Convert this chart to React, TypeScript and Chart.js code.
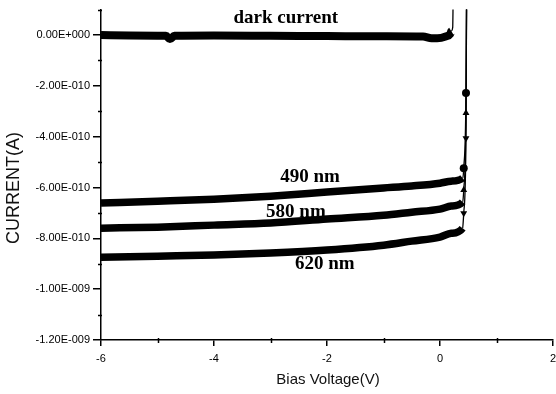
import React, { useEffect, useRef } from 'react';
import { Chart, registerables } from 'chart.js';

Chart.register(...registerables);

// ---- data ----
const darkVoltage = [-6, -5.5, -5, -4.85, -4.78, -4.7, -4, -3, -2, -1, -0.3, -0.15, -0.05, 0.1, 0.18, 0.2, 0.225, 0.232];
const darkCurrent = [0, -2e-12, -3e-12, -3e-12, -1.6e-11, -3e-12, -2e-12, -3e-12, -4e-12, -5e-12, -6e-12, -1.3e-11, -1.3e-11, -6e-12, 4e-12, 1.5e-11, 3e-11, 1.3e-10];

const lightVoltage = [-6, -5, -4, -3, -2, -1, -0.5, 0, 0.2, 0.4, 0.42, 0.46, 0.47];
const current490 = [-6.61e-10, -6.54e-10, -6.46e-10, -6.34e-10, -6.18e-10, -6.02e-10, -5.94e-10, -5.83e-10, -5.75e-10, -5.63e-10, -5.24e-10, -2.28e-10, 1.3e-10];
const current580 = [-7.6e-10, -7.56e-10, -7.48e-10, -7.4e-10, -7.24e-10, -7.09e-10, -6.97e-10, -6.85e-10, -6.73e-10, -6.57e-10, -6.1e-10, -3.07e-10, 1.3e-10];
const current620 = [-8.74e-10, -8.7e-10, -8.66e-10, -8.58e-10, -8.46e-10, -8.27e-10, -8.11e-10, -7.95e-10, -7.8e-10, -7.6e-10, -7.01e-10, -4.06e-10, 1.3e-10];

const xTickValues = [-6, -4, -2, 0, 2];
const xTickLabels = ['-6', '-4', '-2', '0', '2'];
const xMinorTicks = [-5, -3, -1, 1];
const yTickValues = [0, -2e-10, -4e-10, -6e-10, -8e-10, -1e-9, -1.2e-9];
const yTickLabels = ['0.00E+000', '-2.00E-010', '-4.00E-010', '-6.00E-010', '-8.00E-010', '-1.00E-009', '-1.20E-009'];
const yMinorTicks = [1e-10, -1e-10, -3e-10, -5e-10, -7e-10, -9e-10, -1.1e-9];

const seriesLabels = ['dark current', '490 nm', '580 nm', '620 nm'];
const labelVoltage = [-2.73, -2.3, -2.55, -2.04];
const labelCurrent = [0.67e-10, -5.59e-10, -6.97e-10, -9.02e-10];

const xTitle = 'Bias Voltage(V)';
const yTitle = 'CURRENT(A)';

const toPoints = (xs: number[], ys: number[]) => xs.map((x, i) => ({ x, y: ys[i] }));

const overlayPlugin = {
  id: 'overlay',
  afterDraw(chart: any) {
    const { ctx, scales, chartArea } = chart;
    const xs = scales.x;
    const ys = scales.y;
    ctx.save();
    // minor ticks
    ctx.strokeStyle = '#000';
    ctx.lineWidth = 1.5;
    xMinorTicks.forEach((v) => {
      const px = Math.round(xs.getPixelForValue(v)) + 0.5;
      ctx.beginPath();
      ctx.moveTo(px, chartArea.bottom - 2);
      ctx.lineTo(px, chartArea.bottom + 3);
      ctx.stroke();
    });
    yMinorTicks.forEach((v) => {
      const py = Math.round(ys.getPixelForValue(v)) + 0.5;
      ctx.beginPath();
      ctx.moveTo(chartArea.left - 3, py);
      ctx.lineTo(chartArea.left + 1, py);
      ctx.stroke();
    });
    // series labels
    ctx.fillStyle = '#000';
    ctx.font = 'bold 19px "Liberation Serif", "Times New Roman", serif';
    ctx.textAlign = 'center';
    ctx.textBaseline = 'middle';
    seriesLabels.forEach((t, i) => {
      ctx.fillText(t, xs.getPixelForValue(labelVoltage[i]), ys.getPixelForValue(labelCurrent[i]));
    });
    // axis titles
    ctx.font = '15px "Liberation Sans", Arial, sans-serif';
    ctx.fillStyle = '#111';
    ctx.fillText(xTitle, 328, 380);
    ctx.translate(14, 188);
    ctx.rotate(-Math.PI / 2);
    ctx.font = '18px "Liberation Sans", Arial, sans-serif';
    ctx.fillText(yTitle, 0, 0);
    ctx.restore();
  },
};

const lightDataset = (data: number[], style: string, rotation: number) => ({
  data: toPoints(lightVoltage, data),
  borderColor: '#000',
  backgroundColor: '#000',
  borderWidth: 7.5,
  cubicInterpolationMode: 'monotone',
  pointStyle: style,
  pointRotation: rotation,
  pointRadius: (c: any) => {
    const p = c.raw;
    return p && p.x >= 0.41 && p.y < 0 ? 4 : 0;
  },
  pointBorderWidth: 0,
  segment: {
    borderWidth: (c: any) => (c.p0.parsed.x >= 0.39 ? 1.3 : 7.5),
  },
});

export default function App() {
  const ref = useRef<HTMLCanvasElement | null>(null);
  useEffect(() => {
    if (!ref.current) return;
    const chart = new Chart(ref.current, {
      type: 'line',
      data: {
        datasets: [
          {
            data: toPoints(darkVoltage, darkCurrent),
            borderColor: '#000',
            backgroundColor: '#000',
            borderWidth: 8,
            pointRadius: 0,
            cubicInterpolationMode: 'monotone',
            segment: {
              borderWidth: (c: any) => (c.p0.parsed.x >= 0.2 ? 1.3 : 8),
            },
          } as any,
          lightDataset(current490, 'circle', 0) as any,
          lightDataset(current580, 'triangle', 0) as any,
          lightDataset(current620, 'triangle', 180) as any,
        ],
      },
      options: {
        responsive: false,
        animation: false,
        events: [],
        layout: { padding: { left: 0, right: 3, top: 9.6, bottom: 0 } },
        plugins: { legend: { display: false }, tooltip: { enabled: false } },
        scales: {
          x: {
            type: 'linear',
            min: -6,
            max: 2,
            afterBuildTicks: (s: any) => {
              s.ticks = xTickValues.map((v) => ({ value: v }));
            },
            afterFit: (s: any) => {
              s.height = 54;
              s.paddingLeft = 0;
              s.paddingRight = 0;
            },
            ticks: {
              autoSkip: false,
              maxRotation: 0,
              padding: 6,
              color: '#000',
              font: { family: '"Liberation Sans", Arial, sans-serif', size: 11 },
              callback: (v: any) => {
                const i = xTickValues.indexOf(Number(v));
                return i >= 0 ? xTickLabels[i] : '';
              },
            },
            grid: { drawOnChartArea: false, drawTicks: true, tickLength: 6, color: '#000', lineWidth: 1.5 },
            border: { display: true, color: '#000', width: 1.5 },
          },
          y: {
            type: 'linear',
            min: -1.2e-9,
            max: 1e-10,
            afterBuildTicks: (s: any) => {
              s.ticks = yTickValues.map((v) => ({ value: v }));
            },
            afterFit: (s: any) => {
              s.width = 101;
              s.paddingTop = 0;
              s.paddingBottom = 0;
            },
            ticks: {
              autoSkip: false,
              padding: 3,
              color: '#000',
              font: { family: '"Liberation Sans", Arial, sans-serif', size: 11 },
              callback: (v: any) => {
                const i = yTickValues.findIndex((t) => Math.abs(t - Number(v)) < 1e-14);
                return i >= 0 ? yTickLabels[i] : '';
              },
            },
            grid: { drawOnChartArea: false, drawTicks: true, tickLength: 8, color: '#000', lineWidth: 1.5 },
            border: { display: true, color: '#000', width: 1.5 },
          },
        },
      } as any,
      plugins: [overlayPlugin],
    });
    return () => chart.destroy();
  }, []);
  return (
    <div style={{ position: 'absolute', left: 0, top: 0, width: 556, height: 394, background: '#fff' }}>
      <canvas ref={ref} width={556} height={394} style={{ width: 556, height: 394 }} />
    </div>
  );
}
